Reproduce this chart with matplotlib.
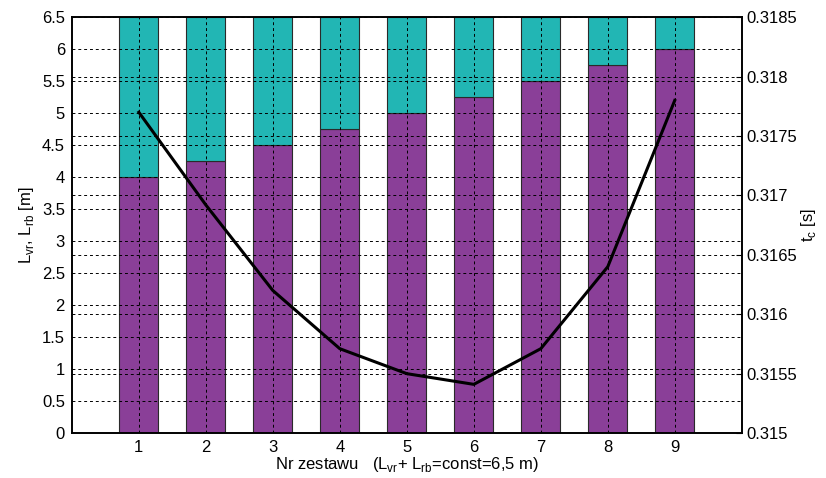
import numpy as np
import matplotlib.pyplot as plt

plt.rcParams['font.family'] = ['Liberation Sans', 'DejaVu Sans']
plt.rcParams['mathtext.fontset'] = 'custom'
plt.rcParams['mathtext.rm'] = 'Liberation Sans'

# Data
sets = [1, 2, 3, 4, 5, 6, 7, 8, 9]
L_vr = [4.0, 4.25, 4.5, 4.75, 5.0, 5.25, 5.5, 5.75, 6.0]
L_total = 6.5
L_rb = [L_total - v for v in L_vr]
t_c = [0.31770, 0.31692, 0.31620, 0.31571, 0.31550, 0.31541, 0.31571, 0.31640, 0.31780]

fig = plt.figure(figsize=(8.26, 4.78), dpi=100)
ax = fig.add_axes([0.087, 0.094, 0.811, 0.870])

ax.bar(sets, L_vr, width=0.58, color='#8A3F98', edgecolor='#2a2a2a', linewidth=0.8, zorder=2)
ax.bar(sets, L_rb, width=0.58, bottom=L_vr, color='#22B6B4', edgecolor='#2a2a2a', linewidth=0.8, zorder=2)

ax.set_xlim(0, 10)
ax.set_ylim(0, 6.5)
ax.set_xticks(sets)
ax.set_yticks(np.arange(0, 6.51, 0.5))
ax.set_yticklabels(['0', '0.5', '1', '1.5', '2', '2.5', '3', '3.5', '4', '4.5', '5', '5.5', '6', '6.5'])
ax.grid(True, linestyle=(0, (3, 3)), color='black', linewidth=0.7)
ax.set_axisbelow(False)
ax.tick_params(labelsize=12, length=0, pad=5)
ax.set_ylabel(r'L$_{\mathrm{vr}}$, L$_{\mathrm{rb}}$ [m]', fontsize=12, labelpad=4)
ax.set_xlabel(r'Nr zestawu   (L$_{\mathrm{vr}}$+ L$_{\mathrm{rb}}$=const=6,5 m)', fontsize=12, labelpad=0)

ax2 = ax.twinx()
ax2.plot(sets, t_c, color='black', linewidth=2.2, zorder=5)
ax2.set_ylim(0.315, 0.3185)
ax2.set_yticks(np.arange(0.315, 0.31851, 0.0005))
ax2.set_yticklabels(['0.315', '0.3155', '0.316', '0.3165', '0.317', '0.3175', '0.318', '0.3185'])
ax2.grid(True, axis='y', linestyle=(0, (3, 3)), color='black', linewidth=0.7)
ax2.tick_params(labelsize=12, length=4, direction='in', pad=3)
ax2.set_ylabel(r't$_{\mathrm{c}}$ [s]', fontsize=12, labelpad=2)

for a in (ax, ax2):
    for s in a.spines.values():
        s.set_linewidth(1.2)

fig.savefig('out.png', dpi=100)
